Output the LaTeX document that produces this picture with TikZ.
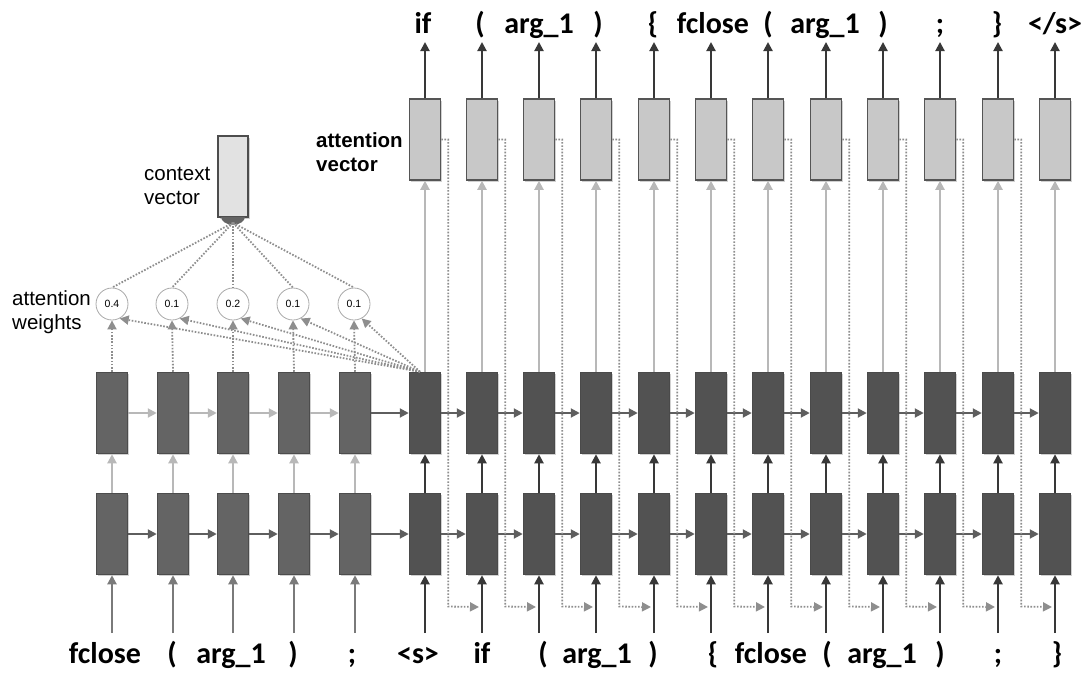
\documentclass[tikz,border=0pt]{standalone}
\usepackage{fontspec}
\setmainfont{Liberation Sans}
\newfontfamily\tokfont{Carlito}
\usetikzlibrary{arrows.meta,calc,shadows}
\definecolor{encfill}{HTML}{646464}
\definecolor{encdraw}{HTML}{4C4C4C}
\definecolor{decfill}{HTML}{525252}
\definecolor{decdraw}{HTML}{4A4A4A}
\definecolor{attfill}{HTML}{C8C8C8}
\definecolor{attdraw}{HTML}{555555}
\definecolor{ctxfill}{HTML}{E2E2E2}
\definecolor{ctxdraw}{HTML}{4D4D4D}
\definecolor{lightarr}{HTML}{B8B8B8}
\definecolor{midarr}{HTML}{5E5E5E}
\definecolor{darkarr}{HTML}{383838}
\definecolor{encinarr}{HTML}{7A7A7A}
\definecolor{dotcol}{HTML}{8E8E8E}
\definecolor{circdraw}{HTML}{AAAAAA}
\begin{document}
\begin{tikzpicture}[x=1pt,y=-1pt,
  boxshadow/.style={drop shadow={shadow xshift=1.5pt,shadow yshift=-1.5pt,fill=black!18,opacity=1}},
  cell/.style={rectangle,minimum width=31pt,minimum height=81pt,inner sep=0pt,line width=1.5pt,boxshadow},
  encbox/.style={cell,fill=encfill,draw=encdraw},
  decbox/.style={cell,fill=decfill,draw=decdraw},
  attbox/.style={cell,fill=attfill,draw=attdraw},
  ctxbox/.style={cell,fill=ctxfill,draw=ctxdraw,minimum width=30pt},
  tip/.style={-{Triangle[length=9pt,width=9pt]}},
  lightline/.style={tip,draw=lightarr,line width=2pt},
  midline/.style={tip,draw=midarr,line width=2pt},
  darkline/.style={tip,draw=darkarr,line width=2pt},
  encinline/.style={tip,draw=encinarr,line width=2pt},
  thindot/.style={draw=dotcol,line width=1.8pt,dash pattern=on 1.6pt off 1.6pt},
  thindotarrow/.style={thindot,-{Triangle[length=9pt,width=9pt]}},
  wcircle/.style={circle,draw=circdraw,fill=white,line width=0.8pt,minimum size=32pt,inner sep=0pt,font=\fontsize{10.5}{12}\selectfont},
  tok/.style={font=\tokfont\bfseries\fontsize{30}{32}\selectfont,inner sep=0pt,anchor=base},
  lbl/.style={align=left,anchor=west,inner sep=0pt,font=\fontsize{20.5}{23.5}\selectfont},
]
\useasboundingbox (0,0) rectangle (1083,675);
\coordinate (lowline) at (0,607);

% encoder cells
\foreach \x [count=\i] in {112,173,233,294,355} {
  \node[encbox] (et\i) at (\x,413) {};
  \node[encbox] (eb\i) at (\x,534) {};
  \coordinate (ei\i) at (\x,633);
}
% decoder cells
\foreach \x [count=\i] in {425,482,539,596,654,711,768,826,883,940,998,1055} {
  \node[decbox] (dt\i) at (\x,413) {};
  \node[decbox] (db\i) at (\x,534) {};
  \node[attbox] (av\i) at (\x,139.5) {};
  \coordinate (di\i) at (\x,633);
  \coordinate (do\i) at (\x,42);
}

% context vector
\coordinate (ctxc) at (233,176.5);
\node[ctxbox] (ctx) at (ctxc) {};
\fill[encfill] ($(ctx.south)+(-12,-1)$) arc[start angle=180,end angle=360,x radius=12pt,y radius=8pt] -- cycle;
\coordinate (ctxb) at ($(ctx.south)+(0,5)$);

% attention weights
\foreach \x/\w [count=\i] in {112/0.4,172/0.1,233/0.2,293/0.1,354/0.1} {
  \node[wcircle] (w\i) at (\x,304) {\w};
}

% labels
\node[lbl] (ctxlbl) at (144,186) {context\\vector};
\node[lbl] (wlbl) at (12,312) {attention\\weights};
\node[lbl,font=\bfseries\fontsize{20.5}{23.5}\selectfont] (avlbl) at (316,152) {attention\\vector};

% context -> weights dotted lines
\foreach \i in {1,...,5} {
  \draw[thindot] (ctxb) -- (w\i.north);
}
% encoder -> weights dotted arrows
\foreach \i in {1,...,5} {
  \draw[thindotarrow] (et\i.north) -- (w\i.south);
}
% decoder state -> weights dotted arrows
\coordinate (dsrc) at ($(dt1.north)+(-5,0)$);
\foreach \i in {1,...,5} {
  \draw[thindotarrow] (dsrc) -- (w\i.-62);
}

% encoder arrows
\foreach \i in {1,...,5} {
  \draw[encinline] (ei\i) -- (eb\i.south);
  \draw[lightline] (eb\i.north) -- (et\i.south);
}
\foreach \i [evaluate=\i as \j using int(\i+1)] in {1,...,4} {
  \draw[lightline] (et\i.east) -- (et\j.west);
  \draw[midline] (eb\i.east) -- (eb\j.west);
}
\draw[midline] (et5.east) -- (dt1.west);
\draw[midline] (eb5.east) -- (db1.west);

% decoder arrows
\foreach \i in {1,...,12} {
  \draw[darkline] (di\i) -- (db\i.south);
  \draw[darkline] (db\i.north) -- (dt\i.south);
  \draw[lightline] (dt\i.north) -- (av\i.south);
  \draw[darkline] (av\i.north) -- (do\i);
}
\foreach \i [evaluate=\i as \j using int(\i+1)] in {1,...,11} {
  \draw[midline] (dt\i.east) -- (dt\j.west);
  \draw[midline] (db\i.east) -- (db\j.west);
  \draw[thindotarrow] (av\i.east) -- ++(7,0) -- ++(0,467) -- ($(di\j |- lowline)+(-3,0)$);
}

% output tokens
\foreach \x/\t [count=\i] in {423/if,480/(,539/arg\_1,598/),653/\{,713/fclose,768/(,825/arg\_1,883/),940/;,997/\}} {
  \node[tok] (ot\i) at (\x,33) {\t};
}
\node[tok] (ot12) at (1055,33) {</s>};
% input tokens
\foreach \x/\t [count=\i] in {105/fclose,172/(,231/arg\_1,293/),352/;,418/<s>,482/if,543/(,597/arg\_1,653/),713/\{,771/fclose,827/(,882/arg\_1,940/),998/;,1057/\}} {
  \node[tok] (it\i) at (\x,663) {\t};
}
\end{tikzpicture}
\end{document}
